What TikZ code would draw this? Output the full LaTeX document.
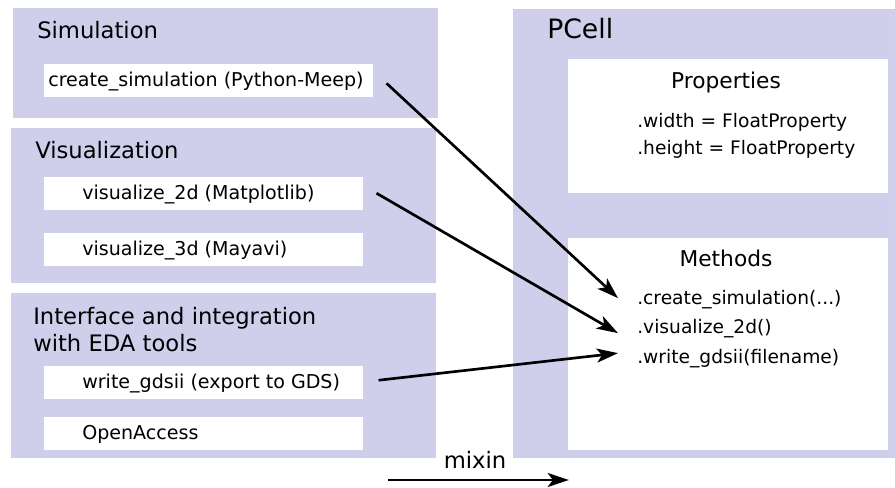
\documentclass[tikz,border=0pt]{standalone}
\usepackage{fontspec}
\setmainfont{DejaVu Sans}
\usetikzlibrary{arrows.meta}
\definecolor{panel}{RGB}{207,207,235}
\tikzstyle{group} = [fill=panel, draw=none, anchor=north west, inner sep=0pt]
\tikzstyle{card} = [fill=white, draw=none, anchor=north west, inner sep=0pt]
\tikzstyle{heading} = [anchor=base west, inner sep=0pt, font=\fontsize{17}{20.25}\selectfont]
\tikzstyle{entry} = [anchor=west, inner sep=0pt, text height=10.6pt, text depth=1.8pt, font=\fontsize{14}{17}\selectfont]
\tikzstyle{tool} = [entry, font=\fontsize{14.3}{17}\selectfont]
\tikzstyle{flow} = [-{Stealth[length=16pt,width=10.5pt,inset=4pt]}, line width=2pt]

\begin{document}
\begin{tikzpicture}[x=0.75pt,y=-0.75pt]
\useasboundingbox (0,0) rectangle (895,488);

% left side
\node[group, minimum width=318.75pt, minimum height=82.5pt] (simgroup) at (13,8) {};
\node[group, minimum width=318.75pt, minimum height=116.25pt] (visgroup) at (11,128) {};
\node[group, minimum width=318.75pt, minimum height=123.75pt] (edagroup) at (11,293) {};

\node[heading] (simtitle) at (37,39) {Simulation};
\node[heading] (vistitle) at (35,159) {Visualization};
\node[heading, align=left] (edatitle) at (33,351) {Interface and integration\\with EDA tools};

\node[card, minimum width=246.75pt, minimum height=24.75pt] (simcard) at (44,64) {};
\node[card, minimum width=239.25pt, minimum height=24.75pt] (viscard) at (44,177) {};
\node[card, minimum width=239.25pt, minimum height=24.75pt] (mayacard) at (44,233) {};
\node[card, minimum width=239.25pt, minimum height=24.75pt] (gdscard) at (44,366) {};
\node[card, minimum width=239.25pt, minimum height=24.75pt] (oacard) at (44,417) {};

\node[tool] (simtext) at ([xshift=3pt]simcard.west) {create\_simulation (Python-Meep)};
\node[tool] (vistext) at ([xshift=28.5pt]viscard.west) {visualize\_2d (Matplotlib)};
\node[tool] (mayatext) at ([xshift=28.5pt]mayacard.west) {visualize\_3d (Mayavi)};
\node[tool] (gdstext) at ([xshift=28.5pt]gdscard.west) {write\_gdsii (export to GDS)};
\node[tool] (oatext) at ([xshift=28.5pt]oacard.west) {OpenAccess};

% right side
\node[group, minimum width=286.5pt, minimum height=336.75pt] (pcell) at (513,9) {};
\node[heading, font=\fontsize{20}{24}\selectfont] (pcelltitle) at (547,39) {PCell};

\node[card, minimum width=240pt, minimum height=100.5pt] (props) at (568,59) {};
\node[card, minimum width=240pt, minimum height=159pt] (meths) at (568,238) {};

\node[heading, anchor=base, font=\fontsize{16.3}{19}\selectfont] (propstitle) at (726,89) {Properties};
\node[entry, anchor=base west] (pwidth) at (637,128) {.width = FloatProperty};
\node[entry, anchor=base west] (pheight) at (637,155) {.height = FloatProperty};

\node[heading, anchor=base, font=\fontsize{16.3}{19}\selectfont] (methstitle) at (726,267) {Methods};
\node[entry, anchor=base west] (mcreate) at (637,304) {.create\_simulation(...)};
\node[entry, anchor=base west] (mvis) at (637,333) {.visualize\_2d()};
\node[entry, anchor=base west] (mgds) at (637,363) {.write\_gdsii(filename)};

% mixin arrows
\draw[flow] ([xshift=9.75pt,yshift=-1.9pt]simcard.east) -- ([xshift=-14.25pt]mcreate.west);
\draw[flow] ([xshift=9.75pt,yshift=0.4pt]viscard.east) -- ([xshift=-14.25pt,yshift=-4.5pt]mvis.west);
\draw[flow] ([xshift=11.25pt,yshift=1.9pt]gdscard.east) -- ([xshift=-14.25pt,yshift=3pt]mgds.west);

% legend
\coordinate (mixfrom) at (388,480);
\coordinate (mixto) at (569,480);
\draw[flow] (mixfrom) -- (mixto);
\node[heading, anchor=base] (mixlabel) at (475,468) {mixin};

\end{tikzpicture}
\end{document}
